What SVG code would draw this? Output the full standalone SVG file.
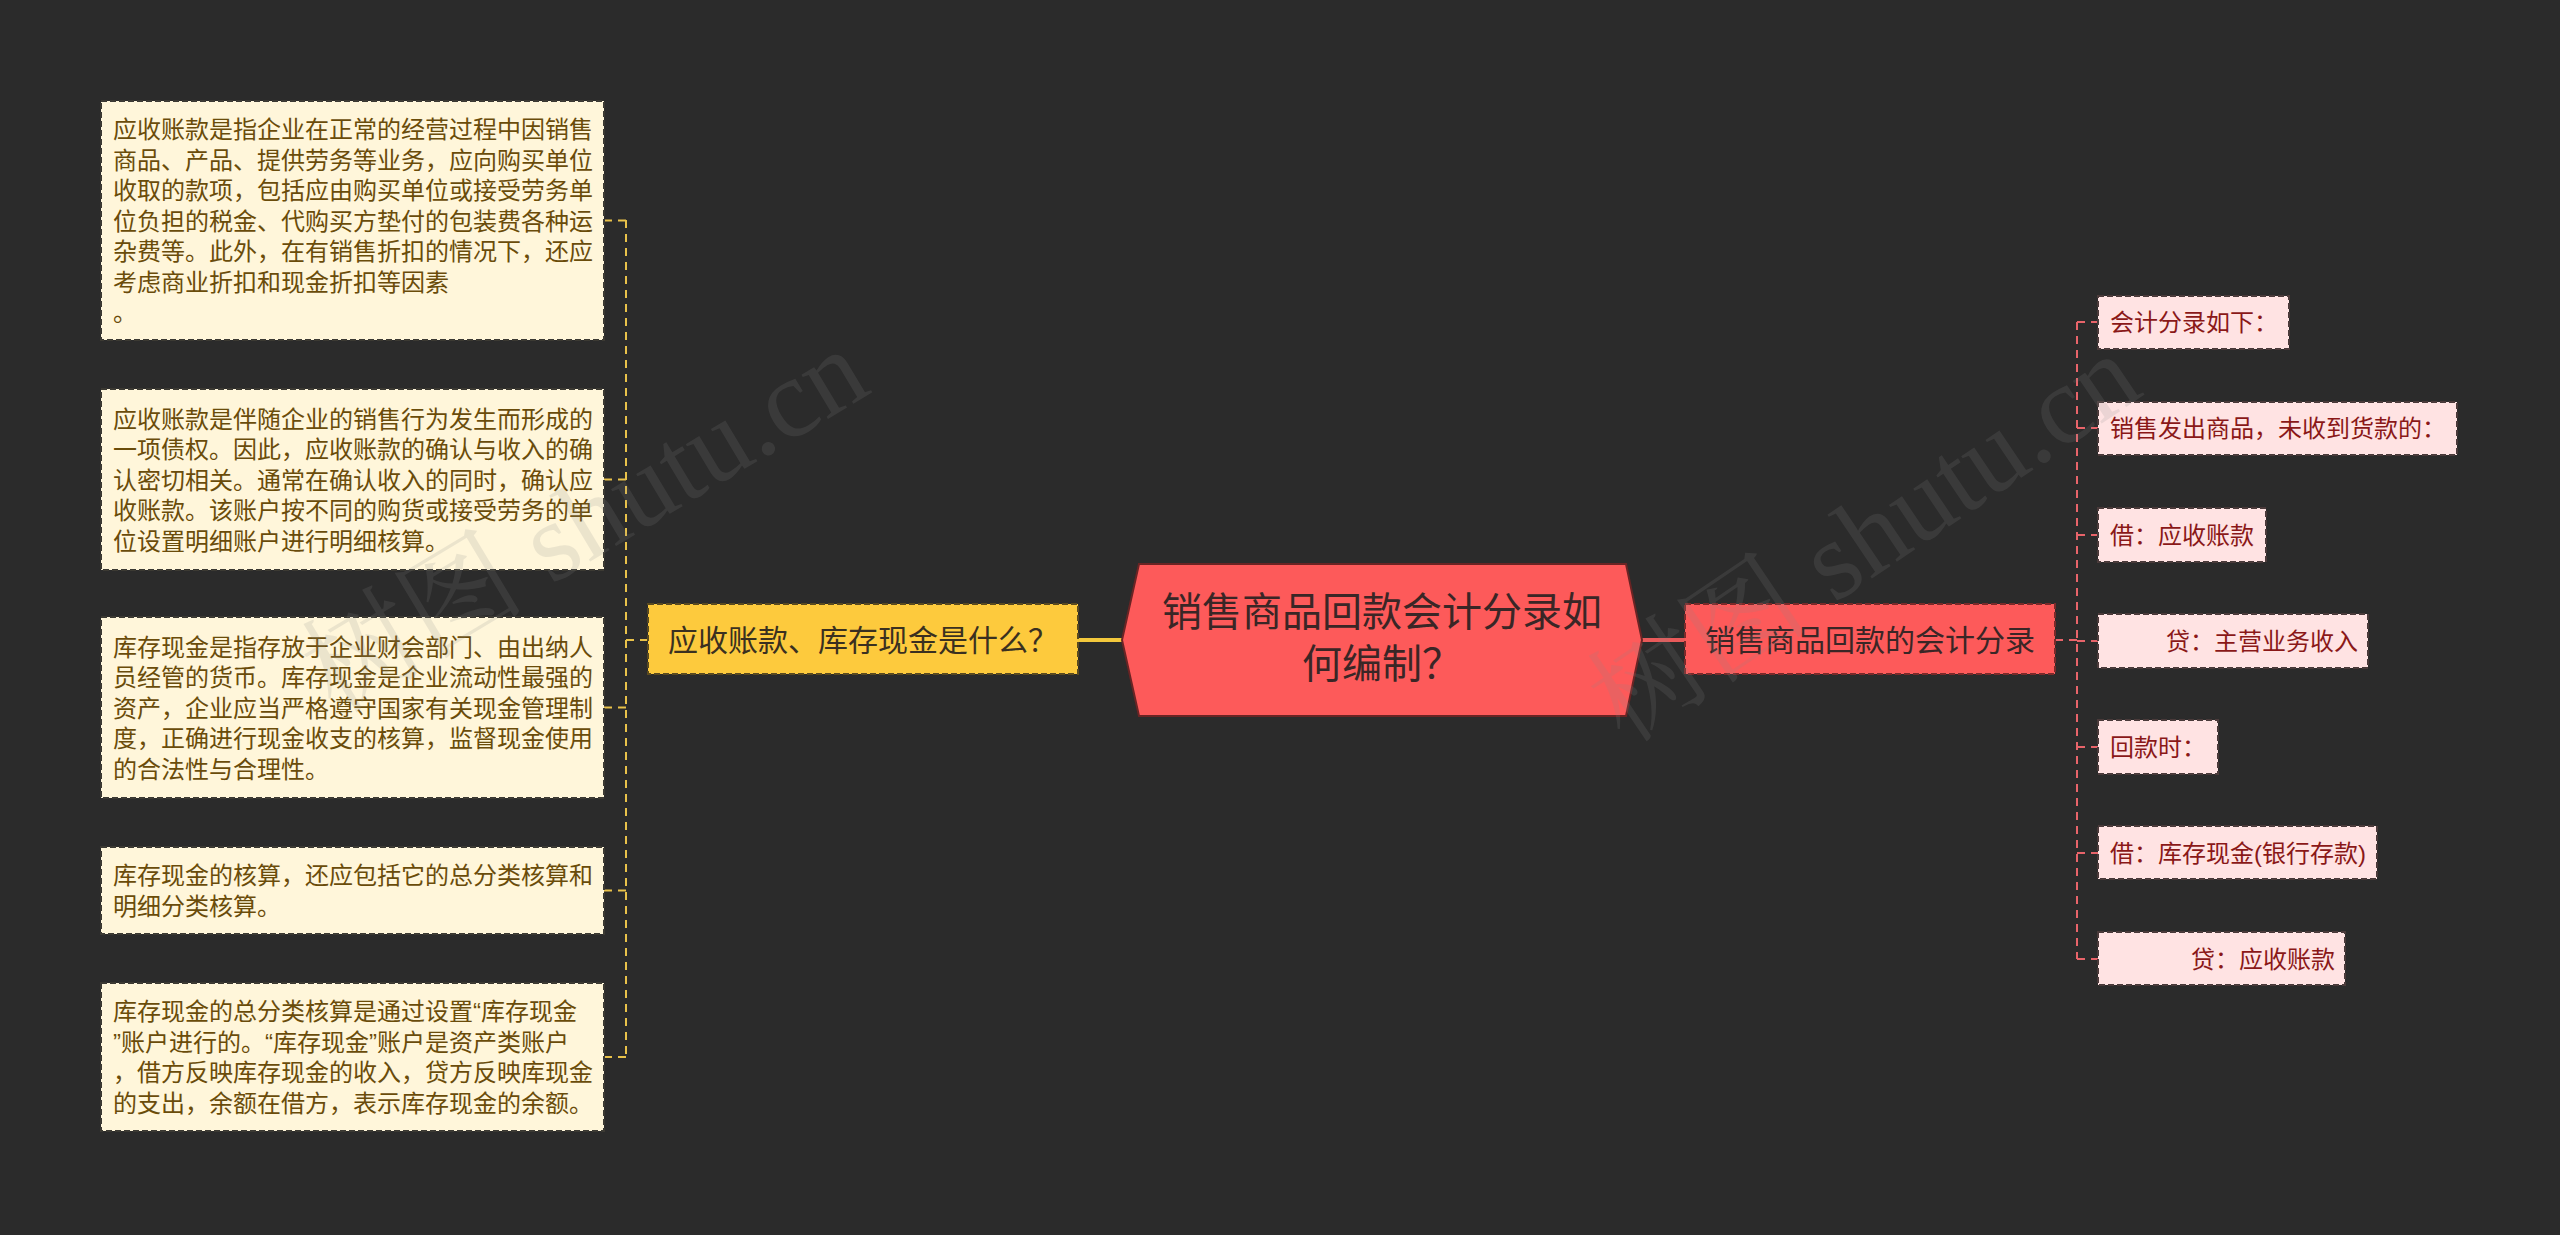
<svg xmlns="http://www.w3.org/2000/svg" width="2560" height="1235" viewBox="0 0 2560 1235">
<style>
text{font-family:"Liberation Sans","Noto Sans CJK SC",sans-serif;}
.leftbox{fill:#FFF6DA;stroke:#3c3a33;stroke-width:2;stroke-dasharray:6 3;}
.lt{font-size:24px;fill:#6A4C0A;dominant-baseline:central;}
.leaf{fill:#FFE3E3;stroke:#4a3a3a;stroke-width:2;stroke-dasharray:6 3;}
.rt{font-size:24px;fill:#8A1818;dominant-baseline:central;}
.yconn{fill:none;stroke:#E9C24A;stroke-width:2;stroke-dasharray:8 6;}
.rconn{fill:none;stroke:#E8646A;stroke-width:2;stroke-dasharray:8 6;}
.wm{font-family:"Liberation Serif","Noto Serif CJK SC","Noto Sans CJK SC",serif;font-size:112px;fill:#8a8a8a;opacity:0.16;}
</style>
<rect x="0" y="0" width="2560" height="1235" fill="#2B2B2B"/>

<g id="connectors">
  <path d="M1078,640 H1124" stroke="#F2C83C" stroke-width="4" fill="none"/>
  <path class="yconn" d="M648,640 H626"/>
  <path class="yconn" d="M626,220 V1058"/>
  <path class="yconn" d="M626,220.5 H604"/>
  <path class="yconn" d="M626,479.5 H604"/>
  <path class="yconn" d="M626,707.5 H604"/>
  <path class="yconn" d="M626,890.5 H604"/>
  <path class="yconn" d="M626,1057 H604"/>
  <path d="M1640,640 H1685" stroke="#E85A5A" stroke-width="4" fill="none"/>
  <path class="rconn" d="M2055,640 H2077"/>
  <path class="rconn" d="M2077,322 V959"/>
  <path class="rconn" d="M2077,322 H2098"/>
  <path class="rconn" d="M2077,428 H2098"/>
  <path class="rconn" d="M2077,535 H2098"/>
  <path class="rconn" d="M2077,641 H2098"/>
  <path class="rconn" d="M2077,747 H2098"/>
  <path class="rconn" d="M2077,853 H2098"/>
  <path class="rconn" d="M2077,959 H2098"/>
</g>

<g id="center">
  <polygon points="1139,564 1626,564 1642,640 1626,716 1139,716 1122,640" fill="#FD5A5A" stroke="#6a2424" stroke-width="2"/>
  <text x="1382" y="612" font-size="40" fill="#3A2626" text-anchor="middle" dominant-baseline="central">销售商品回款会计分录如</text>
  <text x="1382" y="664" font-size="40" fill="#3A2626" text-anchor="middle" dominant-baseline="central">何编制？</text>
</g>

<g id="branch-left">
  <rect x="648" y="604" width="430" height="70" fill="#FDCA3D" stroke="#5a4a20" stroke-width="2" stroke-dasharray="6 3"/>
  <text x="668" y="640" font-size="30" fill="#3A3020" dominant-baseline="central">应收账款、库存现金是什么？</text>
</g>

<g id="branch-right">
  <rect x="1685" y="604" width="370" height="70" fill="#FD5A5A" stroke="#7a2a2a" stroke-width="2" stroke-dasharray="6 3"/>
  <text x="1705" y="640" font-size="30" fill="#3A2626" dominant-baseline="central">销售商品回款的会计分录</text>
</g>

<g id="left1">
  <rect class="leftbox" x="101" y="101" width="503" height="239"/>
  <text class="lt">
    <tspan x="113" y="129">应收账款是指企业在正常的经营过程中因销售</tspan>
    <tspan x="113" y="159.5">商品、产品、提供劳务等业务，应向购买单位</tspan>
    <tspan x="113" y="190">收取的款项，包括应由购买单位或接受劳务单</tspan>
    <tspan x="113" y="220.5">位负担的税金、代购买方垫付的包装费各种运</tspan>
    <tspan x="113" y="251">杂费等。此外，在有销售折扣的情况下，还应</tspan>
    <tspan x="113" y="281.5">考虑商业折扣和现金折扣等因素</tspan>
    <tspan x="113" y="312">。</tspan>
  </text>
</g>

<g id="left2">
  <rect class="leftbox" x="101" y="389" width="503" height="181"/>
  <text class="lt">
    <tspan x="113" y="418.5">应收账款是伴随企业的销售行为发生而形成的</tspan>
    <tspan x="113" y="449">一项债权。因此，应收账款的确认与收入的确</tspan>
    <tspan x="113" y="479.5">认密切相关。通常在确认收入的同时，确认应</tspan>
    <tspan x="113" y="510">收账款。该账户按不同的购货或接受劳务的单</tspan>
    <tspan x="113" y="540.5">位设置明细账户进行明细核算。</tspan>
  </text>
</g>

<g id="left3">
  <rect class="leftbox" x="101" y="617" width="503" height="181"/>
  <text class="lt">
    <tspan x="113" y="646.5">库存现金是指存放于企业财会部门、由出纳人</tspan>
    <tspan x="113" y="677">员经管的货币。库存现金是企业流动性最强的</tspan>
    <tspan x="113" y="707.5">资产，企业应当严格遵守国家有关现金管理制</tspan>
    <tspan x="113" y="738">度，正确进行现金收支的核算，监督现金使用</tspan>
    <tspan x="113" y="768.5">的合法性与合理性。</tspan>
  </text>
</g>

<g id="left4">
  <rect class="leftbox" x="101" y="847" width="503" height="87"/>
  <text class="lt">
    <tspan x="113" y="875.25">库存现金的核算，还应包括它的总分类核算和</tspan>
    <tspan x="113" y="905.75">明细分类核算。</tspan>
  </text>
</g>

<g id="left5">
  <rect class="leftbox" x="101" y="983" width="503" height="148"/>
  <text class="lt">
    <tspan x="113" y="1011.25">库存现金的总分类核算是通过设置“库存现金</tspan>
    <tspan x="113" y="1041.75">”账户进行的。“库存现金”账户是资产类账户</tspan>
    <tspan x="113" y="1072.25">，借方反映库存现金的收入，贷方反映库现金</tspan>
    <tspan x="113" y="1102.75">的支出，余额在借方，表示库存现金的余额。</tspan>
  </text>
</g>

<g id="right1">
  <rect class="leaf" x="2098" y="296" width="191" height="53"/>
  <text class="rt" x="2110" y="322">会计分录如下：</text>
</g>
<g id="right2">
  <rect class="leaf" x="2098" y="402" width="359" height="53"/>
  <text class="rt" x="2110" y="428">销售发出商品，未收到货款的：</text>
</g>
<g id="right3">
  <rect class="leaf" x="2098" y="508" width="168" height="54"/>
  <text class="rt" x="2110" y="535">借：应收账款</text>
</g>
<g id="right4">
  <rect class="leaf" x="2098" y="614" width="270" height="54"/>
  <text class="rt" x="2166" y="641">贷：主营业务收入</text>
</g>
<g id="right5">
  <rect class="leaf" x="2098" y="720" width="120" height="54"/>
  <text class="rt" x="2110" y="747">回款时：</text>
</g>
<g id="right6">
  <rect class="leaf" x="2098" y="826" width="279" height="53"/>
  <text class="rt" x="2110" y="853">借：库存现金(银行存款)</text>
</g>
<g id="right7">
  <rect class="leaf" x="2098" y="932" width="247" height="53"/>
  <text class="rt" x="2191" y="959">贷：应收账款</text>
</g>

<g id="watermarks">
  <text class="wm" transform="translate(335,715) rotate(-31)">树图 shutu.cn</text>
  <text class="wm" transform="translate(1625,745) rotate(-34)">树图 shutu.cn</text>
</g>
</svg>
